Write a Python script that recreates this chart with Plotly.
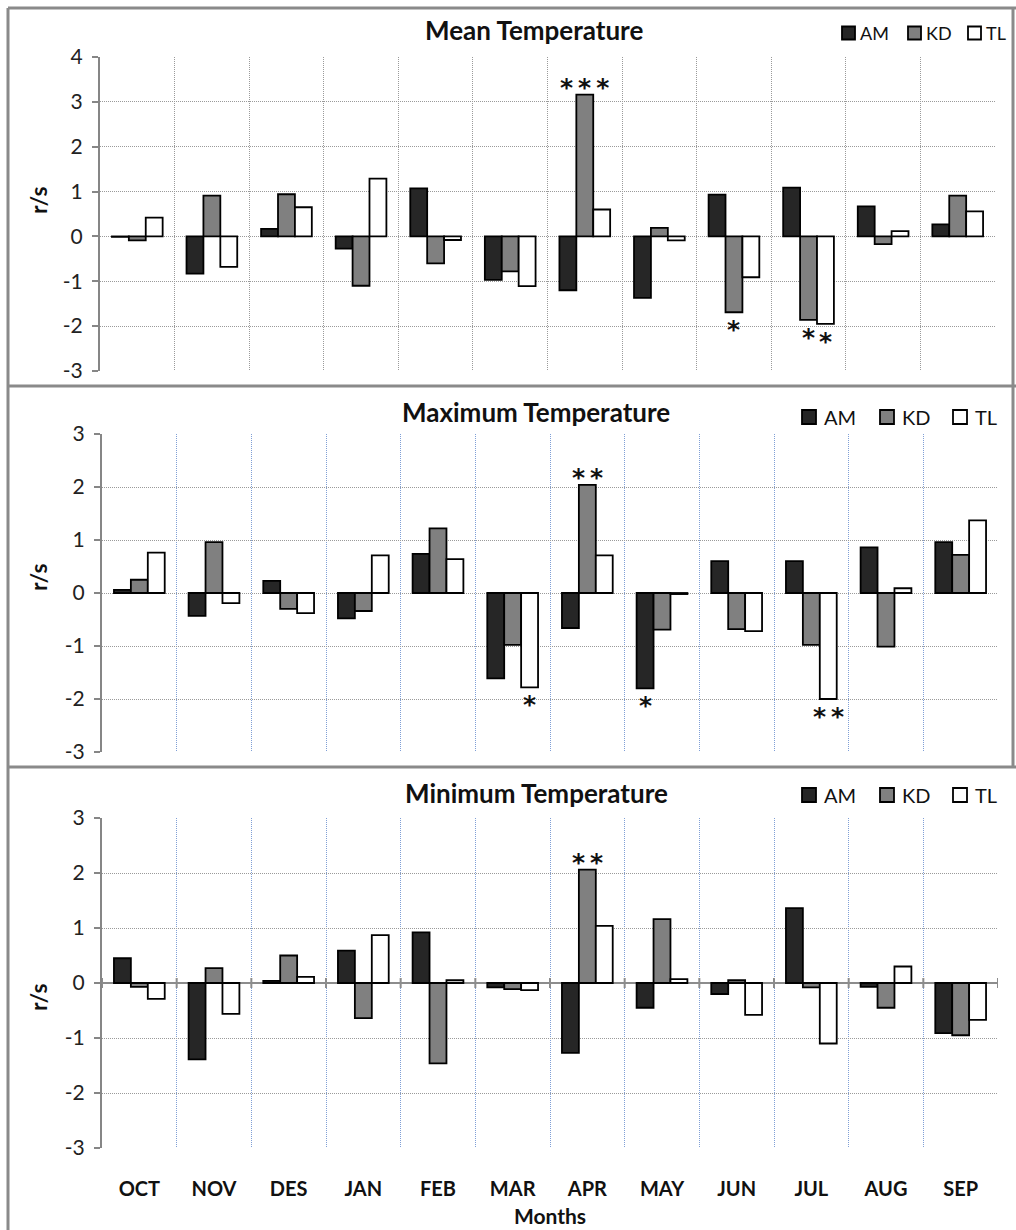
import plotly.graph_objects as go

# ---- data -------------------------------------------------------------
months = ["OCT", "NOV", "DES", "JAN", "FEB", "MAR",
          "APR", "MAY", "JUN", "JUL", "AUG", "SEP"]
stations = ["AM", "KD", "TL"]

mean_am = [-0.01, -0.83, 0.17, -0.27, 1.07, -0.97, -1.20, -1.37, 0.93, 1.09, 0.67, 0.27]
mean_kd = [-0.09, 0.91, 0.94, -1.10, -0.60, -0.78, 3.16, 0.19, -1.69, -1.86, -0.17, 0.91]
mean_tl = [0.42, -0.68, 0.65, 1.29, -0.08, -1.11, 0.60, -0.09, -0.91, -1.95, 0.12, 0.56]

max_am = [0.06, -0.43, 0.23, -0.48, 0.74, -1.61, -0.66, -1.80, 0.60, 0.60, 0.86, 0.96]
max_kd = [0.25, 0.96, -0.30, -0.34, 1.22, -0.98, 2.04, -0.69, -0.68, -0.98, -1.01, 0.72]
max_tl = [0.76, -0.19, -0.38, 0.71, 0.64, -1.78, 0.71, -0.02, -0.72, -2.00, 0.09, 1.37]

min_am = [0.45, -1.39, 0.04, 0.59, 0.92, -0.08, -1.27, -0.45, -0.20, 1.36, -0.07, -0.91]
min_kd = [-0.07, 0.27, 0.50, -0.64, -1.46, -0.11, 2.06, 1.16, 0.05, -0.08, -0.45, -0.95]
min_tl = [-0.29, -0.56, 0.11, 0.87, 0.05, -0.13, 1.04, 0.07, -0.58, -1.10, 0.30, -0.67]

# significance marks: (month, station, number of stars)
mean_sig = [("APR", "KD", 3), ("JUN", "KD", 1), ("JUL", "KD", 1), ("JUL", "TL", 1)]
max_sig = [("APR", "KD", 2), ("MAR", "TL", 1), ("MAY", "AM", 1), ("JUL", "TL", 2)]
min_sig = [("APR", "KD", 2)]

titles = ["Mean Temperature", "Maximum Temperature", "Minimum Temperature"]
y_ticks = [[4, 3, 2, 1, 0, -1, -2, -3], [3, 2, 1, 0, -1, -2, -3], [3, 2, 1, 0, -1, -2, -3]]

# ---- styling ----------------------------------------------------------
W, H = 1016, 1230
FONT = "Lato"
fills = {"AM": "#262626", "KD": "#808080", "TL": "#ffffff"}
BARGAP = 0.32
bar_w = (1 - BARGAP) / len(stations)
DOTS = "1px,1px"

panels = [
    dict(series=[mean_am, mean_kd, mean_tl], sig=mean_sig, yr=[-3, 4],
         top=57, bottom=371, left=100, right=995, vgrid="#9a9a9a",
         title_y=30, ylab_y=200,
         leg_y=33, leg_x=[842, 908, 968], leg_sq=13, leg_gap=3, leg_font=18),
    dict(series=[max_am, max_kd, max_tl], sig=max_sig, yr=[-3, 3],
         top=434, bottom=752, left=102, right=998, vgrid="#7f9fd6",
         title_y=412, ylab_y=577,
         leg_y=417, leg_x=[802, 880, 953], leg_sq=14, leg_gap=6, leg_font=20),
    dict(series=[min_am, min_kd, min_tl], sig=min_sig, yr=[-3, 3],
         top=818, bottom=1148, left=102, right=998, vgrid="#7f9fd6",
         title_y=793, ylab_y=997,
         leg_y=795, leg_x=[802, 880, 953], leg_sq=14, leg_gap=6, leg_font=20),
]


def px_x(p):
    return p / W


def px_y(p):
    return 1 - p / H


fig = go.Figure()
annotations = []
shapes = []

for i, pnl in enumerate(panels):
    n = i + 1
    sfx = "" if n == 1 else str(n)
    for st, vals in zip(stations, pnl["series"]):
        fig.add_trace(go.Bar(
            x=months, y=vals, name=st,
            xaxis=f"x{sfx}", yaxis=f"y{sfx}", showlegend=False,
            marker=dict(color=fills[st], line=dict(color="#000000", width=1.8)),
            hoverinfo="x+y+name",
        ))

    last = (n == 3)
    fig.update_layout(**{
        f"xaxis{sfx}": dict(
            domain=[px_x(pnl["left"]), px_x(pnl["right"])],
            anchor=f"y{sfx}", type="category", categoryorder="array",
            categoryarray=months, tickson="boundaries", automargin=False,
            showgrid=True, gridcolor=pnl["vgrid"], griddash=DOTS, gridwidth=1,
            showline=False, ticks="", showticklabels=last,
            tickfont=dict(family=FONT, size=20, color="#111111", weight="bold"),
            ticklabelstandoff=27,
            title=dict(text="Months" if last else "",
                       font=dict(family=FONT, size=21, color="#111111", weight="bold"),
                       standoff=10),
            range=[-0.5, len(months) - 0.5], fixedrange=True,
        ),
        f"yaxis{sfx}": dict(
            domain=[px_y(pnl["bottom"]), px_y(pnl["top"])],
            anchor=f"x{sfx}", range=pnl["yr"], automargin=False,
            tickvals=y_ticks[i], ticktext=[str(t) for t in y_ticks[i]],
            showgrid=True, gridcolor="#9a9a9a", griddash=DOTS, gridwidth=1,
            zeroline=last, zerolinecolor="#8c8c8c", zerolinewidth=2,
            showline=True, linecolor="#868686", linewidth=2,
            ticks="outside", ticklen=6, tickcolor="#868686", tickwidth=2,
            tickfont=dict(family=FONT, size=21, color="#222222"),
            ticklabelstandoff=5, fixedrange=True,
        ),
    })

    # panel title
    annotations.append(dict(
        text=f"<b>{titles[i]}</b>", xref="paper", yref="paper",
        x=px_x((pnl["left"] + pnl["right"]) / 2 - 14), y=px_y(pnl["title_y"]),
        xanchor="center", yanchor="middle", showarrow=False,
        font=dict(family=FONT, size=26, color="#111111"),
    ))
    # y-axis title
    annotations.append(dict(
        text="<b>r/s</b>", xref="paper", yref="paper", textangle=-90,
        x=px_x(38), y=px_y(pnl["ylab_y"]),
        xanchor="center", yanchor="middle", showarrow=False,
        font=dict(family=FONT, size=23, color="#111111"),
    ))

    # legend: square swatch followed by station code
    sq = pnl["leg_sq"]
    for st, lx in zip(stations, pnl["leg_x"]):
        shapes.append(dict(
            type="rect", xref="paper", yref="paper",
            x0=px_x(lx), x1=px_x(lx + sq),
            y0=px_y(pnl["leg_y"] + sq / 2), y1=px_y(pnl["leg_y"] - sq / 2),
            fillcolor=fills[st], line=dict(color="#000000", width=1.8),
        ))
        annotations.append(dict(
            text=st, xref="paper", yref="paper",
            x=px_x(lx + sq + pnl["leg_gap"]), y=px_y(pnl["leg_y"]),
            xanchor="left", yanchor="middle", showarrow=False,
            font=dict(family=FONT, size=pnl["leg_font"], color="#111111"),
        ))

    # significance asterisks, placed at the end of the bar they refer to
    for month, st, count in pnl["sig"]:
        k = stations.index(st)
        j = months.index(month)
        v = pnl["series"][k][j]
        xpos = j + (k - 1) * bar_w
        above = v > 0
        annotations.append(dict(
            text="<b>" + "\u2009".join(["*"] * count) + "</b>",
            xref=f"x{sfx}", yref=f"y{sfx}",
            x=xpos, y=v, xanchor="center",
            yanchor="bottom" if above else "top",
            yshift=-9 if above else -1,
            showarrow=False,
            font=dict(family="DejaVu Sans", size=25, color="#111111"),
        ))

    # tick marks crossing the solid zero axis on the bottom panel
    if last:
        for b in range(len(months) + 1):
            shapes.append(dict(
                type="line", xref=f"x{sfx}", yref="paper",
                x0=b - 0.5, x1=b - 0.5,
                y0=px_y(983 + 5), y1=px_y(983 - 5),
                line=dict(color="#8c8c8c", width=2),
            ))

# panel frames
FRAME = dict(color="#8a8a8a", width=3)
shapes.append(dict(type="line", xref="paper", yref="paper",
                   x0=px_x(8), x1=px_x(8), y0=px_y(8), y1=0, line=FRAME))
shapes.append(dict(type="line", xref="paper", yref="paper",
                   x0=px_x(1013), x1=px_x(1013), y0=px_y(8), y1=px_y(767), line=FRAME))
for yb in (8, 386, 767):
    shapes.append(dict(type="line", xref="paper", yref="paper",
                       x0=px_x(8), x1=1, y0=px_y(yb), y1=px_y(yb), line=FRAME))

fig.update_layout(
    width=W, height=H,
    margin=dict(l=0, r=0, t=0, b=0, autoexpand=False),
    paper_bgcolor="#ffffff", plot_bgcolor="#ffffff",
    barmode="group", bargap=BARGAP, bargroupgap=0,
    showlegend=False,
    annotations=annotations, shapes=shapes,
    font=dict(family=FONT, color="#111111"),
)

fig.write_html("out.html", config={"displayModeBar": False})
